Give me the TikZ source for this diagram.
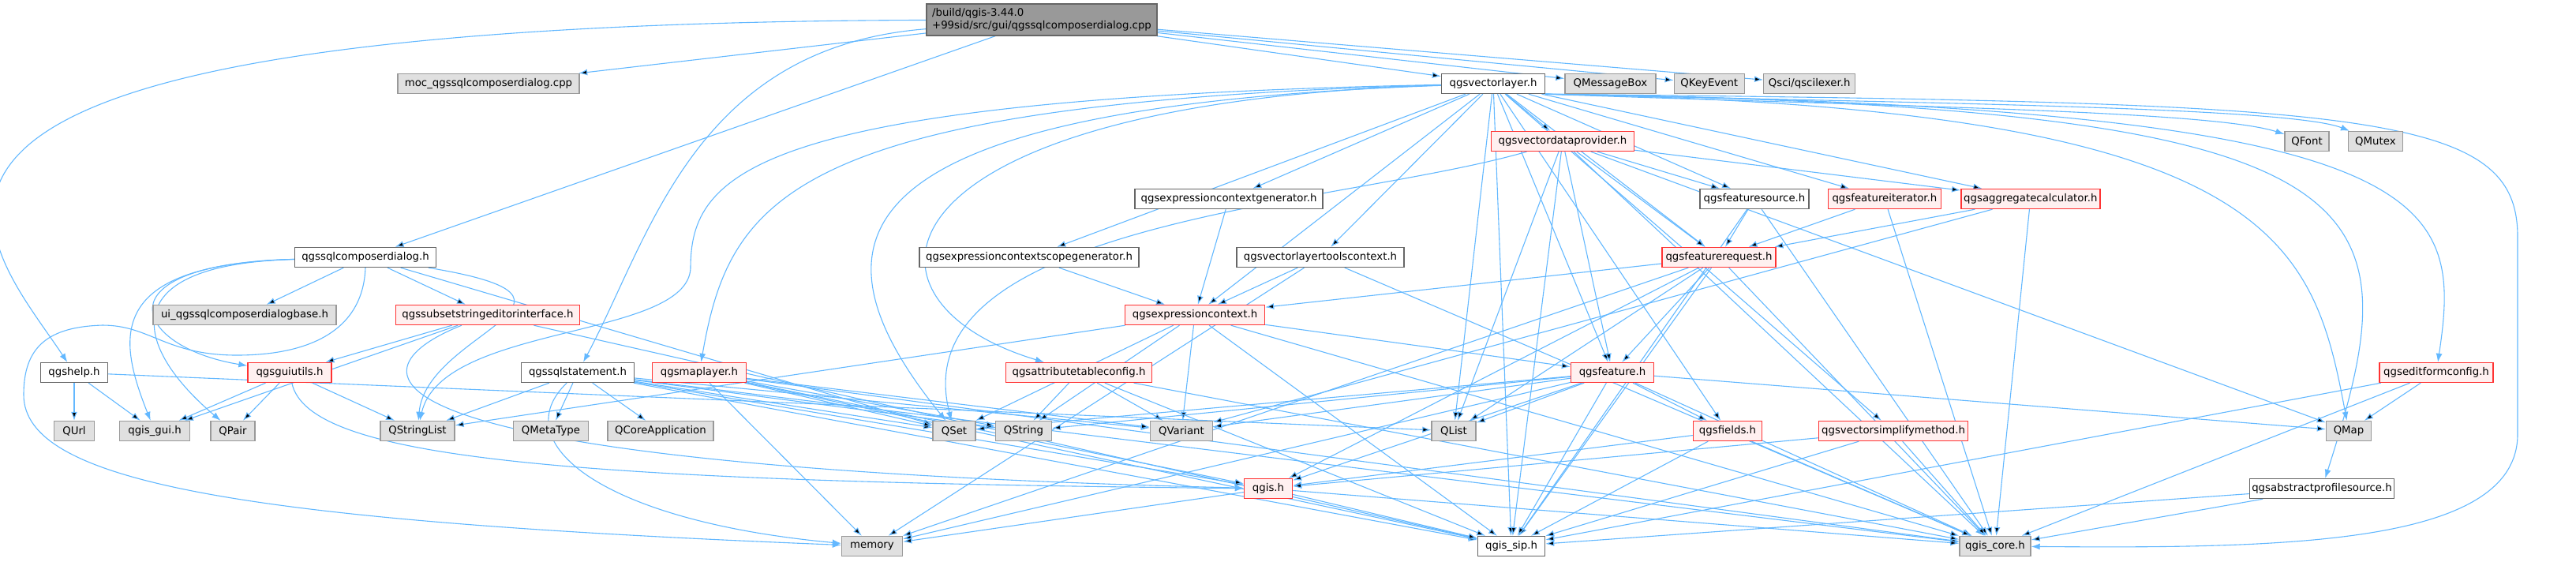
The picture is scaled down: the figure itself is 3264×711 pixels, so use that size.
\documentclass[tikz,border=0pt]{standalone}
\usepackage{fontspec}
\usepackage{xcolor}
\usetikzlibrary{positioning,arrows.meta,backgrounds}
\newfontfamily\dejavu{DejaVu Sans}
\definecolor{edgeblue}{HTML}{63B8FF}
\definecolor{boxgray}{HTML}{E0E0E0}
\definecolor{rimgray}{HTML}{999999}
\definecolor{rimdark}{HTML}{666666}
\definecolor{redfill}{HTML}{FFF0F0}
\definecolor{redrim}{HTML}{FF3333}

\begin{document}
\begin{tikzpicture}
		[x=0.1pt,y=-0.1pt,>={Latex[length=1.1pt,width=0.8pt]},
		file/.style={rectangle,draw=rimdark,fill=white,line width=0.14pt,inner sep=0pt,minimum height=2.5pt,font=\dejavu\fontsize{1.33}{1.6}\selectfont},
		sys/.style={file,draw=rimgray,fill=boxgray},
		trunc/.style={file,draw=redrim,fill=redfill},
		source/.style={file,fill=rimgray,minimum height=4pt,align=left},
		dep/.style={draw=edgeblue,line width=0.11pt,->}]
		\useasboundingbox (0,0) rectangle (3264,711);

		% top rows
		\node [source,minimum width=29.2pt] (root) at (1320,25) {/build/qgis-3.44.0\\+99sid/src/gui/qgssqlcomposerdialog.cpp};
		\node [sys,minimum width=23pt] (moc) at (619,106) {moc\_qgssqlcomposerdialog.cpp};
		\node [file,minimum width=13.1pt] (vl) at (1892,106) {qgsvectorlayer.h};
		\node [sys,minimum width=11.5pt] (msgbox) [right=2.4pt of vl] {QMessageBox};
		\node [sys,minimum width=8.9pt] (keyevent) [right=2.2pt of msgbox] {QKeyEvent};
		\node [sys,minimum width=11.6pt] (lexer) [right=2.3pt of keyevent] {Qsci/qscilexer.h};

		\node [trunc,minimum width=18.1pt] (vdp) at (1980,179) {qgsvectordataprovider.h};
		\node [sys,minimum width=5.6pt] (font) at (2923,179) {QFont};
		\node [sys,minimum width=6.9pt] (mutex) [right=2.3pt of font] {QMutex};

		\node [file,minimum width=23.8pt] (ctxgen) at (1557,252) {qgsexpressioncontextgenerator.h};
		\node [file,minimum width=13.8pt] (fsource) at (2223,252) {qgsfeaturesource.h};
		\node [trunc,minimum width=14.3pt] (fiter) [right=2.3pt of fsource] {qgsfeatureiterator.h};
		\node [trunc,minimum width=17.6pt] (aggcalc) [right=2.4pt of fiter] {qgsaggregatecalculator.h};

		\node [file,minimum width=17.9pt] (dlg) at (463,326) {qgssqlcomposerdialog.h};
		\node [file,minimum width=27.8pt] (scopegen) at (1304,326) {qgsexpressioncontextscopegenerator.h};
		\node [file,minimum width=21.2pt] (toolsctx) at (1673,326) {qgsvectorlayertoolscontext.h};
		\node [trunc,minimum width=14.4pt] (frequest) at (2178,326) {qgsfeaturerequest.h};

		\node [sys,minimum width=23.2pt] (uibase) at (310,399) {ui\_qgssqlcomposerdialogbase.h};
		\node [trunc,minimum width=23.3pt] (subset) at (618,399) {qgssubsetstringeditorinterface.h};
		\node [trunc,minimum width=17.7pt] (exprctx) at (1514,399) {qgsexpressioncontext.h};

		\node [file,minimum width=8.5pt] (help) at (94,472) {qgshelp.h};
		\node [trunc,minimum width=10.6pt] (guiutils) at (367,472) {qgsguiutils.h};
		\node [file,minimum width=14.3pt] (stmt) at (732,472) {qgssqlstatement.h};
		\node [trunc,minimum width=11.9pt] (maplayer) at (886,472) {qgsmaplayer.h};
		\node [trunc,minimum width=18.5pt] (attrconf) at (1367,472) {qgsattributetableconfig.h};
		\node [trunc,minimum width=10.5pt] (feature) at (2043,472) {qgsfeature.h};
		\node [trunc,minimum width=14.4pt] (editform) at (3087,472) {qgseditformconfig.h};

		% leaf row
		\node [sys,minimum width=5.1pt] (url) at (94,546) {QUrl};
		\node [sys,minimum width=8.9pt] (qgisgui) at (196,546) {qgis\_gui.h};
		\node [sys,minimum width=5.6pt] (pair) at (295,546) {QPair};
		\node [sys,minimum width=9.4pt] (strlist) at (529,546) {QStringList};
		\node [sys,minimum width=9.5pt] (metatype) at (698,546) {QMetaType};
		\node [sys,minimum width=13.4pt] (coreapp) at (837,546) {QCoreApplication};
		\node [sys,minimum width=5.4pt] (set) at (1209,546) {QSet};
		\node [sys,minimum width=7.1pt] (string) [right=2.4pt of set] {QString};
		\node [sys,minimum width=7.9pt] (variant) at (1497,546) {QVariant};
		\node [sys,minimum width=5.6pt] (list) at (1842,546) {QList};
		\node [trunc,minimum width=8.7pt] (fields) at (2189,546) {qgsfields.h};
		\node [trunc,minimum width=18.9pt] (simplify) at (2399,546) {qgsvectorsimplifymethod.h};
		\node [sys,minimum width=5.7pt] (map) at (2976,546) {QMap};

		\node [trunc,minimum width=6.1pt] (qgis) at (1607,619) {qgis.h};
		\node [file,minimum width=18.3pt] (profile) at (2942,619) {qgsabstractprofilesource.h};

		\node [sys,minimum width=7.7pt] (memory) at (1105,692) {memory};
		\node [file,minimum width=8.5pt] (qgissip) at (1915,692) {qgis\_sip.h};
		\node [sys,minimum width=9pt] (qgiscore) at (2528,692) {qgis\_core.h};

		\begin{pgfonlayer}{background}
		% includes of the dialog source
		\draw [dep] (root) edge (moc) edge (dlg) edge (vl) edge (msgbox) edge (keyevent) edge (lexer);
		\draw [dep] (root) .. controls (-300,30) and (-20,300) .. (help);
		\draw [dep] (root) .. controls (880,60) and (824,300) .. (stmt);

		% dialog header
		\draw [dep] (dlg) edge (uibase) edge (subset) edge (set);
		\draw [dep] (dlg) .. controls (120,335) and (170,440) .. (guiutils);
		\draw [dep] (dlg) .. controls (130,335) and (150,430) .. (qgisgui);
		\draw [dep] (dlg) .. controls (140,335) and (170,440) .. (pair);
		\draw [dep] (dlg) .. controls (790,380) and (540,420) .. (strlist);
		\draw [dep] (dlg.south) .. controls (460,420) and (390,450) .. (300,450) .. controls (210,450) and (190,412) .. (130,412)
			.. controls (60,414) and (30,440) .. (30,500) .. controls (30,610) and (300,660) .. (memory);
		\draw [dep] (subset) edge (guiutils) edge (qgisgui) edge (qgissip);
		\draw [dep] (subset) .. controls (440,470) and (420,590) .. (qgis);
		\draw [dep] (guiutils) edge (qgisgui) edge (pair) edge (strlist);
		\draw [dep] (guiutils) .. controls (390,580) and (700,610) .. (qgis);
		\draw [dep] (help) edge (url) edge (qgisgui) edge (list);
		\draw [dep] (stmt) edge (strlist) edge (metatype) edge (coreapp)
			edge (set) edge (string) edge (variant) edge (qgis) edge (qgissip) edge (qgiscore);
		\draw [dep] (stmt) .. controls (640,560) and (760,660) .. (memory);
		\draw [dep] (maplayer) edge (set) edge (string) edge (variant) edge (qgis) edge (qgissip) edge (qgiscore) edge (memory);

		% vector layer header
		\draw [dep] (vl) edge (vdp) edge (ctxgen) edge (scopegen)
			edge (toolsctx) edge (exprctx) edge (fsource) edge (fiter) edge (aggcalc) edge (frequest)
			edge (feature) edge (fields) edge (simplify) edge (list) edge (qgissip);
		\draw [dep] (vl.south east) .. controls (2400,135) and (2800,140) .. (font);
		\draw [dep] (vl.south east) .. controls (2400,130) and (2900,135) .. (mutex);
		\draw [dep] (vl) .. controls (1000,130) and (925,250) .. (maplayer);
		\draw [dep] (vl) .. controls (1060,135) and (1010,300) .. (set);
		\draw [dep] (vl) .. controls (1100,130) and (1060,380) .. (attrconf);
		\draw [dep] (vl) .. controls (950,125) and (875,220) .. (875,340) .. controls (870,430) and (560,410) .. (strlist);
		\draw [dep] (vl.south east) .. controls (2880,135) and (2930,300) .. (map);
		\draw [dep] (vl.south east) .. controls (3040,135) and (3060,250) .. (profile);
		\draw [dep] (vl.south east) .. controls (3100,135) and (3120,250) .. (editform);
		\draw [dep] (vl.south east) .. controls (3000,130) and (3190,140) .. (3190,300) -- (3190,550) .. controls (3190,690) and (2900,695) .. (qgiscore);
		\draw [dep] (vdp) edge (fsource) edge (aggcalc) edge (frequest) edge (feature) edge (list) edge (map)
			edge (qgissip) edge (qgiscore);
		\draw [dep] (vdp) .. controls (1700,260) and (1140,280) .. (set);

		% lower headers
		\draw [dep] (ctxgen) edge (exprctx);
		\draw [dep] (scopegen) edge (exprctx);
		\draw [dep] (toolsctx) edge (exprctx) edge (qgiscore) edge (memory);
		\draw [dep] (fsource) edge (frequest) edge (qgissip) edge (qgiscore);
		\draw [dep] (fiter) edge (frequest) edge (qgiscore);
		\draw [dep] (aggcalc) edge (frequest) edge (variant) edge (qgiscore);
		\draw [dep] (frequest) edge (exprctx) edge (feature) edge (list) edge (qgis) edge (qgissip) edge (qgiscore) edge (memory);
		\draw [dep] (exprctx) edge (feature) edge (set) edge (string) edge (variant) edge (strlist) edge (qgissip) edge (qgiscore);
		\draw [dep] (attrconf) edge (string) edge (variant) edge (qgissip) edge (qgiscore);
		\draw [dep] (feature) edge (list) edge (string) edge (variant) edge (set) edge (map) edge (fields)
			edge (qgis) edge (qgissip) edge (qgiscore) edge (memory);
		\draw [dep] (fields) edge (qgis) edge (qgissip) edge (qgiscore);
		\draw [dep] (simplify) edge (qgis) edge (qgissip) edge (qgiscore);
		\draw [dep] (editform) edge (map) edge (qgissip) edge (qgiscore);
		\draw [dep] (profile) edge (qgissip) edge (qgiscore);
		\draw [dep] (qgis) edge (qgissip) edge (qgiscore) edge (memory);
		\end{pgfonlayer}

	\end{tikzpicture}
\end{document}
